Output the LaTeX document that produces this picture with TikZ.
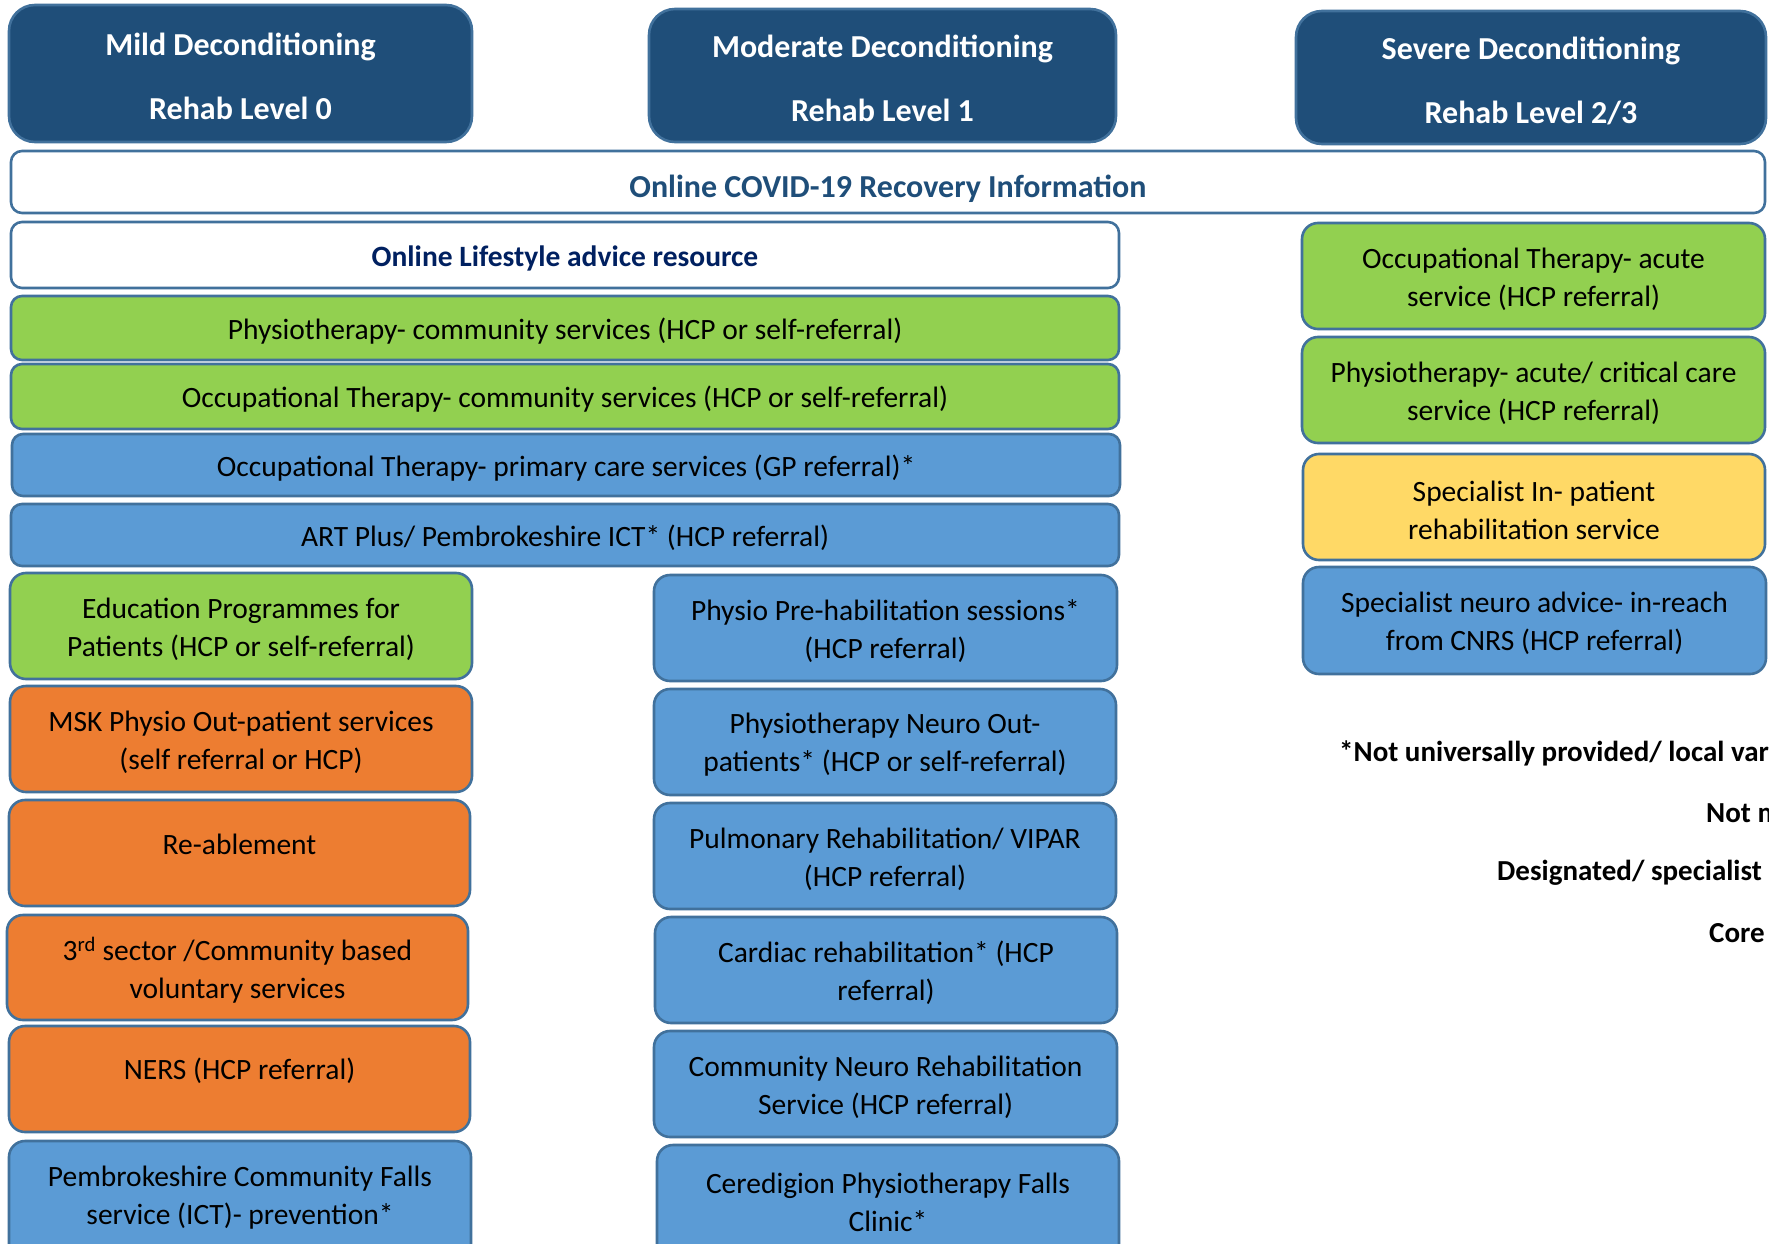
\documentclass[tikz,border=0pt]{standalone}
\usepackage{fontspec}
\setmainfont{Carlito}
\definecolor{hdr}{HTML}{1F4E79}
\definecolor{edge}{HTML}{41719C}
\definecolor{grn}{HTML}{92D050}
\definecolor{blu}{HTML}{5B9BD5}
\definecolor{org}{HTML}{ED7D31}
\definecolor{ylw}{HTML}{FFD966}
\definecolor{navy}{HTML}{002060}
\tikzset{
  base/.style={draw=edge, line width=2.6pt, rounded corners=16pt, inner sep=0pt},
  hdrbox/.style={base, fill=hdr, rounded corners=26pt},
  thin/.style={base, rounded corners=11pt},
  gbox/.style={base, fill=grn},
  bbox/.style={base, fill=blu},
  obox/.style={base, fill=org},
  ybox/.style={base, fill=ylw},
  wbox/.style={thin, fill=white},
  txt/.style={inner sep=0pt, align=center, text=black, font=\fontsize{29.5}{38}\selectfont},
  htxt/.style={txt, text=white, font=\fontsize{32}{64}\selectfont\bfseries},
  legend/.style={anchor=west, inner sep=0pt, font=\fontsize{29}{38}\selectfont\bfseries},
}
% name, box style, text style, x1, y1, x2, y2, text shift (down), text
\newcommand\bx[9]{%
  \node[#2, minimum width={(#6-#4)*1pt}, minimum height={(#7-#5)*1pt}] (#1) at ({(#4+#6)/2},{(#5+#7)/2}) {};
  \node[#3, yshift={-(#8)*1pt}] (#1-t) at (#1.center) {#9};}
\begin{document}
\begin{tikzpicture}[x=1pt,y=-1pt]
\useasboundingbox (0,0) rectangle (1769,1244);
\clip (0,0) rectangle (1769,1244);
\fill[white] (0,0) rectangle (1769,1244);
% headers
\bx{h0}{hdrbox}{htxt}{9}{5}{472}{142}{3}{Mild Deconditioning\\Rehab Level 0}
\bx{h1}{hdrbox}{htxt}{649}{9}{1116}{142}{3}{Moderate Deconditioning\\Rehab Level 1}
\bx{h2}{hdrbox}{htxt}{1296}{11}{1766}{144}{3}{Severe Deconditioning\\Rehab Level 2/3}
% wide rows
\bx{covid}{wbox}{txt, text=hdr, font=\fontsize{32}{38}\selectfont\bfseries}{11}{151}{1765}{213}{7}{Online COVID-19 Recovery Information}
\bx{life}{wbox}{txt, text=navy, font=\fontsize{29.5}{38}\selectfont\bfseries}{11}{222}{1119}{288}{3}{Online Lifestyle advice resource}
\bx{phc}{gbox, thin}{txt}{11}{296}{1119}{360}{3}{Physiotherapy- community services (HCP or self-referral)}
\bx{otc}{gbox, thin}{txt}{11}{364}{1119}{429}{3}{Occupational Therapy- community services (HCP or self-referral)}
\bx{otp}{bbox, thin}{txt}{12}{434}{1120}{496}{3}{Occupational Therapy- primary care services (GP referral)*}
\bx{art}{bbox, thin}{txt}{11}{504}{1119}{566}{3}{ART Plus/ Pembrokeshire ICT* (HCP referral)}
% left column
\bx{edu}{gbox}{txt}{10}{573}{472}{679}{3}{Education Programmes for\\Patients (HCP or self-referral)}
\bx{msk}{obox}{txt}{10}{686}{472}{792}{3}{MSK Physio Out-patient services\\(self referral or HCP)}
\bx{reab}{obox}{txt}{9}{800}{470}{906}{-8.5}{Re-ablement}
\bx{third}{obox}{txt}{7}{915}{468}{1020}{3}{3\textsuperscript{rd} sector /Community based\\voluntary services}
\bx{ners}{obox}{txt}{9}{1026}{470}{1132}{-8}{NERS (HCP referral)}
\bx{pemb}{bbox}{txt}{9}{1141}{471}{1270}{-7.5}{Pembrokeshire Community Falls\\service (ICT)- prevention*}
% middle column
\bx{preh}{bbox}{txt}{654}{575}{1117}{681}{3}{Physio Pre-habilitation sessions*\\(HCP referral)}
\bx{neuro}{bbox}{txt}{654}{689}{1116}{795}{3}{Physiotherapy Neuro Out-\\patients* (HCP or self-referral)}
\bx{pulm}{bbox}{txt}{654}{803}{1116}{909}{3}{Pulmonary Rehabilitation/ VIPAR\\(HCP referral)}
\bx{card}{bbox}{txt}{655}{917}{1117}{1023}{3}{Cardiac rehabilitation* (HCP\\referral)}
\bx{cnrs}{bbox}{txt}{654}{1031}{1117}{1137}{3}{Community Neuro Rehabilitation\\Service (HCP referral)}
\bx{cered}{bbox}{txt}{657}{1145}{1119}{1274}{-7.5}{Ceredigion Physiotherapy Falls\\Clinic*}
% right column
\bx{ota}{gbox}{txt}{1302}{223}{1765}{329}{3}{Occupational Therapy- acute\\service (HCP referral)}
\bx{pha}{gbox}{txt}{1302}{337}{1765}{443}{3}{Physiotherapy- acute/ critical care\\service (HCP referral)}
\bx{spi}{ybox}{txt}{1303}{454}{1765}{560}{3}{Specialist In- patient\\rehabilitation service}
\bx{spn}{bbox}{txt}{1303}{567}{1766}{674}{3}{Specialist neuro advice- in-reach\\from CNRS (HCP referral)}
% legend
\node[legend] (l1) at (1339,753) {*Not universally provided/ local var};
\node[legend] (l2) at (1706,813) {Not m};
\node[legend] (l3) at (1497,873) {Designated/ specialist};
\node[legend] (l4) at (1709,933) {Core};
\end{tikzpicture}
\end{document}
